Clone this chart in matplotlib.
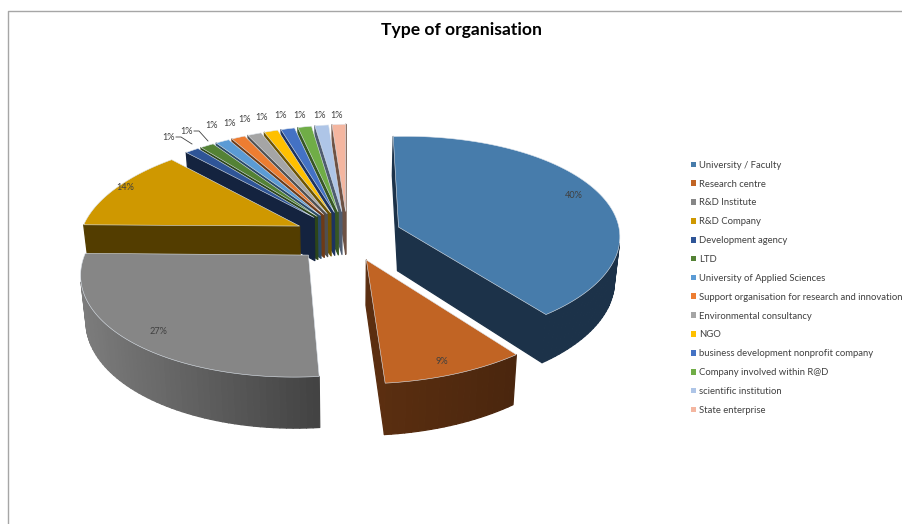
import numpy as np
import matplotlib
matplotlib.use("Agg")
import matplotlib.pyplot as plt
from matplotlib.patches import Patch
from matplotlib.colors import to_rgb

plt.rcParams['font.family'] = ['Lato', 'DejaVu Sans']

categories = ["University / Faculty", "Research centre", "R&D Institute", "R&D Company",
              "Development agency", "LTD", "University of Applied Sciences",
              "Support organisation for research and innovation", "Environmental consultancy",
              "NGO", "business development nonprofit company", "Company involved within R@D",
              "scientific institution", "State enterprise"]
values = [40, 9, 27, 12.6, 1.14, 1.14, 1.14, 1.14, 1.14, 1.14, 1.14, 1.14, 1.14, 1.14]
value_labels = ["40%", "9%", "27%", "14%"] + ["1%"] * 10

top_colors = ["#477cab", "#c16424", "#868686", "#cf9800", "#2f5597", "#548235", "#5b9bd5",
              "#ed7d31", "#a5a5a5", "#ffc000", "#4472c4", "#70ad47", "#aec5e7", "#f4b6a0"]
side_from = ["#1c3249", "#5c2f10", "#7c7c7c", "#533d00", "#14233f", "#2c4519", "#2a4a68",
             "#6e3a16", "#505050", "#6e5400", "#1d3360", "#375723", "#4f5c70", "#6e5244"]
side_to = ["#1c3249", "#4a260e", "#424242", "#533d00", "#14233f", "#2c4519", "#2a4a68",
           "#6e3a16", "#505050", "#6e5400", "#1d3360", "#375723", "#4f5c70", "#6e5244"]

label_x = [574, 442, 158, 125, 169, 187, 212, 230, 245, 262, 281, 300, 320, 337]
label_y = [195, 361, 331, 188, 137, 131, 126, 123, 120, 118, 115, 115, 115, 115]

# view model of the tilted pie
CX, CY, AX, BY, PERSP, SHEAR, EXPLODE, DEPTH = 347.5, 236, 221, 103, 0.1175, 5, 0.245, 44


def project(u, v, down=False):
    k = 1 / (1 + PERSP * v)
    x = AX * u * k
    y = -BY * v * k - SHEAR * u
    if down:
        return CX + x * 0.98, CY + y + DEPTH * k
    return CX + x, CY + y


def mix(a, b, t):
    a, b = np.array(to_rgb(a)), np.array(to_rgb(b))
    return tuple(a + (b - a) * float(np.clip(t, 0, 1)))


def area(px, py):
    return 0.5 * np.sum(px * np.roll(py, -1) - np.roll(px, -1) * py)


fig = plt.figure(figsize=(9.03, 5.24), dpi=100)
ax = fig.add_axes([0, 0, 1, 1])
ax.set_xlim(0, 903)
ax.set_ylim(524, 0)
ax.axis("off")

ax.plot([8.5, 8.5, 903], [524, 10.5, 10.5], color="#a6a6a6", lw=1)

edges = np.concatenate([[0], np.cumsum(values)]) / np.sum(values) * 2 * np.pi
mids = (edges[:-1] + edges[1:]) / 2
order = np.argsort(-np.cos(mids))

for i in order:
    a0, a1, m = edges[i], edges[i + 1], mids[i]
    n = max(int(np.degrees(a1 - a0) / 1.5), 2)
    th = np.linspace(a0, a1, n + 1)
    eu, ev = EXPLODE * np.sin(m), EXPLODE * np.cos(m)
    u = np.concatenate([[eu], eu + np.sin(th)])
    v = np.concatenate([[ev], ev + np.cos(th)])
    tx, ty = project(u, v)
    bx, by = project(u, v, down=True)
    sign = np.sign(area(tx, ty))
    lo, hi = tx.min(), tx.max()
    for j in range(len(tx)):
        q = (j + 1) % len(tx)
        qx = np.array([tx[j], tx[q], bx[q], bx[j]])
        qy = np.array([ty[j], ty[q], by[q], by[j]])
        if np.sign(area(qx, qy)) == -sign:
            c = mix(side_from[i], side_to[i], ((tx[j] + tx[q]) / 2 - lo) / (hi - lo))
            ax.fill(qx, qy, facecolor=c, edgecolor=c, lw=0.9, joinstyle="round", zorder=2)
    ax.fill(tx, ty, facecolor=top_colors[i], edgecolor="#dfe6ee", lw=0.4, zorder=2)

for x, y, s in zip(label_x, label_y, value_labels):
    ax.text(x, y, s, ha="center", va="center", fontsize=6.6, color="#404040", zorder=5)

# leader lines of the two left-most small labels
ax.plot([176, 181, 192], [137, 137, 144], color="#404040", lw=0.6, zorder=4)
ax.plot([194, 199, 208], [131, 131, 141], color="#404040", lw=0.6, zorder=4)

ax.text(462, 30, "Type of organisation", ha="center", va="center", fontsize=12.6,
        fontweight="bold", color="black")

handles = [Patch(facecolor=c, edgecolor="none") for c in top_colors]
leg = ax.legend(handles, categories, loc="upper left", bbox_to_anchor=(686 / 903, 1 - 156 / 524),
                bbox_transform=ax.transAxes, frameon=False, fontsize=6.85, ncol=1,
                handlelength=0.55, handleheight=0.55, handletextpad=0.3,
                labelspacing=1.035, borderpad=0.5, borderaxespad=0)
for t in leg.get_texts():
    t.set_color("#404040")

fig.savefig("out.png", dpi=100)
